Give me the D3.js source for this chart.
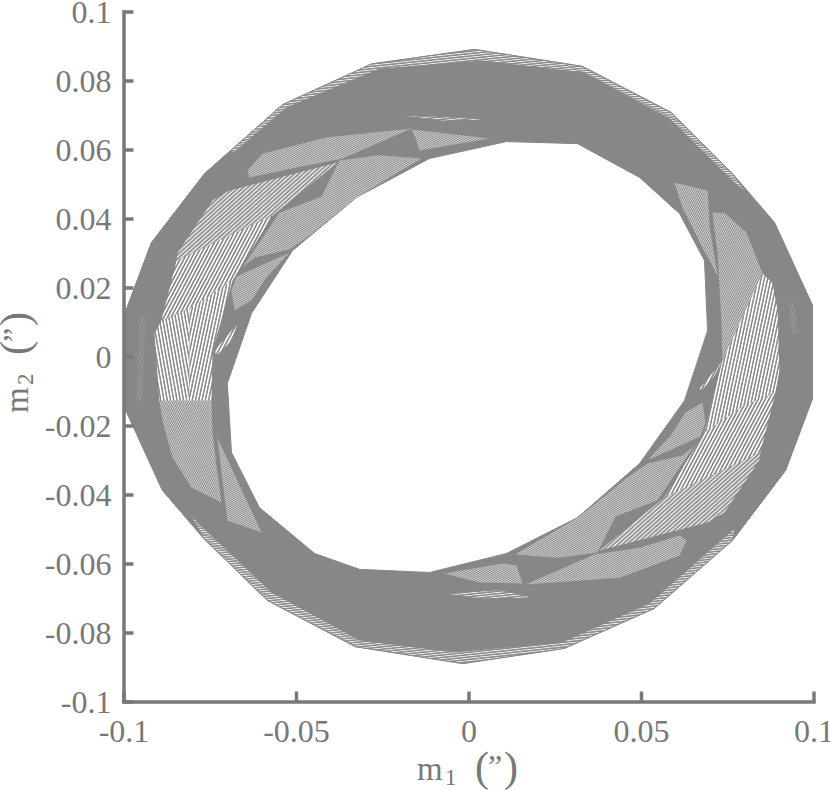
<!DOCTYPE html>
<html><head><meta charset="utf-8">
<script src="https://cdn.jsdelivr.net/npm/d3@7/dist/d3.min.js"></script>
<style>html,body{margin:0;padding:0;background:#fff}svg{display:block}</style>
</head><body><div id="chart"></div>
<script>
const xTicks=[-0.1,-0.05,0,0.05,0.1];
const xTickLabels=["-0.1","-0.05","0","0.05","0.1"];
const yTicks=[-0.1,-0.08,-0.06,-0.04,-0.02,0,0.02,0.04,0.06,0.08,0.1];
const yTickLabels=["-0.1","-0.08","-0.06","-0.04","-0.02","0","0.02","0.04","0.06","0.08","0.1"];

const outerEdge=[[.0017,.0890],[.0330,.0841],[.0588,.0707],[.0765,.0530],[.0887,.0388],[.0997,.0148],[.0997,-.0122],[.0919,-.0330],[.0765,-.0533],[.0539,-.0730],[.0278,-.0846],[-.0017,-.0890],[-.0328,-.0841],[-.0583,-.0707],[-.0765,-.0530],[-.0887,-.0388],[-.0997,-.0148],[-.0997,.0122],[-.0919,.0330],[-.0765,.0530],[-.0539,.0730],[-.0281,.0848]];
const innerEdge=[[.0110,.0623],[.0316,.0617],[.0496,.0519],[.0612,.0414],[.0684,.0278],[.0693,.0075],[.0626,-.0128],[.0496,-.0310],[.0316,-.0467],[.0110,-.0571],[-.0113,-.0626],[-.0316,-.0617],[-.0446,-.0571],[-.0606,-.0438],[-.0687,-.0278],[-.0699,-.0078],[-.0629,.0125],[-.0510,.0307],[-.0325,.0461],[-.0113,.0574]];

const topFringe=[[-.0690,.0597],[-.0539,.0730],[-.0281,.0848],[.0017,.0890],[.0330,.0841],[.0588,.0707],[.0765,.0530],[.0800,.0481],[.0780,.0496],[.0583,.0690],[.0336,.0823],[.0041,.0858],[-.0258,.0835],[-.0528,.0722],[-.0681,.0591]];
const bottomFringe=[[.0765,-.0533],[.0539,-.0730],[.0278,-.0846],[-.0017,-.0890],[-.0328,-.0841],[-.0583,-.0707],[-.0765,-.0530],[-.0803,-.0461],[-.0786,-.0481],[-.0571,-.0684],[-.0316,-.0823],[-.0041,-.0858],[.0272,-.0829],[.0525,-.0716],[.0771,-.0499]];

const leftBack=[[-.0896,-.0128],[-.0910,.0067],[-.0890,.0104],[-.0809,.0139],[-.0809,-.0128]];
const leftUpright=[[-.0809,-.0128],[-.0809,.0139],[-.0684,.0220],[-.0742,.0017],[-.0745,-.0128]];
const leftLower=[[-.0896,-.0128],[-.0745,-.0128],[-.0742,-.0223],[-.0730,-.0322],[-.0716,-.0423],[-.0803,-.0380],[-.0858,-.0293],[-.0887,-.0186]];
const leftWedge=[[-.0728,-.0235],[-.0699,-.0475],[-.0600,-.0510],[-.0684,-.0330]];
const leftMid=[[-.0846,.0278],[-.0568,.0409],[-.0684,.0220],[-.0809,.0139],[-.0890,.0104]];
const leftBand=[[-.0846,.0278],[-.0843,.0301],[-.0742,.0452],[-.0693,.0481],[-.0380,.0562],[-.0490,.0472],[-.0568,.0409]];
const leftFine=[[-.0655,.0258],[-.0548,.0417],[-.0426,.0464],[-.0374,.0568],[-.0258,.0583],[-.0136,.0574],[-.0325,.0461],[-.0461,.0351],[-.0519,.0310],[-.0620,.0287]];
const leftSmall=[[-.0672,.0232],[-.0519,.0301],[-.0586,.0229],[-.0629,.0162],[-.0678,.0133],[-.0687,.0191]];
const leftSliver=[[-.0736,.0017],[-.0670,.0096],[-.0687,.0046],[-.0730,.0003]];
const leftSpecks=[[-.0954,.0119],[-.0936,.0119],[-.0945,-.0128],[-.0962,-.0128]];
const topPatch=[[-.0641,.0539],[-.0597,.0588],[-.0412,.0635],[-.0165,.0661],[-.0365,.0574],[-.0499,.0548],[-.0635,.0519]];
const topPatchB=[[-.0165,.0658],[.0061,.0632],[-.0142,.0597],[-.0151,.0626]];
const topSliver=[[-.0191,.0699],[.0061,.0687],[-.0075,.0684]];

const rightNarrow=[[.0597,.0504],[.0693,.0481],[.0699,.0374],[.0722,.0235],[.0678,.0316],[.0620,.0432]];
const rightUpper=[[.0707,.0417],[.0742,.0417],[.0806,.0359],[.0852,.0241],[.0736,-.0012],[.0733,.0104],[.0722,.0299]];
const rightUpright=[[.0852,.0241],[.0881,.0212],[.0896,.0133],[.0901,-.0041],[.0890,-.0104],[.0800,-.0142],[.0684,-.0220],[.0736,-.0012]];
const rightMid=[[.0846,-.0278],[.0568,-.0409],[.0684,-.0220],[.0800,-.0142],[.0890,-.0104]];
const rightBand=[[.0846,-.0278],[.0843,-.0301],[.0742,-.0452],[.0693,-.0481],[.0380,-.0562],[.0490,-.0472],[.0568,-.0409]];
const rightFine=[[.0655,-.0258],[.0548,-.0417],[.0426,-.0464],[.0374,-.0568],[.0258,-.0583],[.0136,-.0574],[.0325,-.0461],[.0461,-.0351],[.0519,-.0310],[.0620,-.0287]];
const rightSmall=[[.0672,-.0232],[.0519,-.0301],[.0586,-.0229],[.0629,-.0162],[.0678,-.0133],[.0687,-.0191]];
const rightSliver=[[.0670,-.0093],[.0733,-.0017],[.0713,-.0055],[.0675,-.0099]];
const rightSpecks=[[.0928,.0154],[.0945,.0154],[.0954,.0067],[.0936,.0067]];
const bottomPatch=[[.0612,-.0519],[.0632,-.0533],[.0612,-.0577],[.0438,-.0641],[.0165,-.0661],[.0365,-.0574],[.0496,-.0554]];
const bottomPatchB=[[-.0070,-.0629],[.0099,-.0600],[.0139,-.0606],[.0157,-.0658],[.0032,-.0655]];
const bottomSliver=[[-.0064,-.0687],[.0090,-.0678],[.0186,-.0699],[.0032,-.0701]];

const W=830,H=790,ink="#878787",axisInk="#787878",textInk="#787878",font="'Liberation Serif','Times New Roman',serif";
const hatchStyles={
 back:{a:-100,g:3.2,w:1.7,o:1}, upright:{a:-78,g:3.2,w:1.7,o:1}, steep:{a:-62,g:3.2,w:1.6,o:1},
 band:{a:-42,g:3.0,w:1.3,o:.95}, fine:{a:-30,g:1.7,w:.7,o:.8}, fineB:{a:-115,g:1.7,w:.7,o:.8},
 flat:{a:-6,g:2.4,w:.9,o:.9}, faint:{a:-70,g:3,w:.6,o:.3}
};
const patches=[[leftBack,"back"],[leftUpright,"upright"],[leftLower,"fineB"],[leftWedge,"fine"],[leftMid,"steep"],[leftBand,"band"],[leftFine,"fine"],[leftSmall,"fine"],[leftSliver,"steep"],[leftSpecks,"faint"],[topPatch,"fine"],[topPatchB,"fine"],[topSliver,"flat"],
 [rightNarrow,"fineB"],[rightUpper,"fineB"],[rightUpright,"upright"],[rightMid,"steep"],[rightBand,"band"],[rightFine,"fine"],[rightSmall,"fine"],[rightSliver,"steep"],[rightSpecks,"faint"],[bottomPatch,"fine"],[bottomPatchB,"fine"],[bottomSliver,"flat"],
 [topFringe,"flat"],[bottomFringe,"flat"]];

const x=d3.scaleLinear().domain([-0.1,0.1]).range([123.5,813.5]);
const y=d3.scaleLinear().domain([-0.1,0.1]).range([701.5,11.5]);
const svg=d3.select("#chart").append("svg").attr("width",W).attr("height",H).attr("viewBox",[0,0,W,H]);
const defs=svg.append("defs");
defs.append("filter").attr("id","soft").attr("x","-5%").attr("y","-5%").attr("width","110%").attr("height","110%")
  .append("feGaussianBlur").attr("stdDeviation",0.45);
Object.entries(hatchStyles).forEach(([id,s])=>{
  const p=defs.append("pattern").attr("id","h-"+id).attr("patternUnits","userSpaceOnUse")
    .attr("width",s.g).attr("height",s.g).attr("patternTransform",`rotate(${s.a})`);
  p.append("rect").attr("width",s.g).attr("height",s.w).attr("fill","#fff").attr("fill-opacity",s.o);
});
const ring=d3.line().x(d=>x(d[0])).y(d=>y(d[1])).curve(d3.curveLinearClosed);
const art=svg.append("g").attr("filter","url(#soft)");
art.append("path").attr("d",ring(outerEdge)+ring(innerEdge)).attr("fill",ink).attr("fill-rule","evenodd")
   .attr("stroke",ink).attr("stroke-width",1);
art.append("g").selectAll("path").data(patches).join("path").attr("d",d=>ring(d[0])).attr("fill",d=>`url(#h-${d[1]})`);
art.append("path").attr("d",ring(outerEdge)).attr("fill","none").attr("stroke",ink).attr("stroke-width",1);

const gx=svg.append("g").attr("transform",`translate(0,${y(-0.1)})`)
  .call(d3.axisBottom(x).tickValues(xTicks).tickFormat((d,i)=>xTickLabels[i]).tickSizeInner(-10).tickSizeOuter(0).tickPadding(0));
const gy=svg.append("g").attr("transform",`translate(${x(-0.1)},0)`)
  .call(d3.axisLeft(y).tickValues(yTicks).tickFormat((d,i)=>yTickLabels[i]).tickSizeInner(-10).tickSizeOuter(0).tickPadding(12));
[gx,gy].forEach(g=>{
  g.selectAll(".domain").attr("stroke",axisInk).attr("stroke-width",3.5).attr("stroke-linecap","square");
  g.selectAll(".tick line").attr("stroke",axisInk).attr("stroke-width",3.5);
  g.selectAll("text").attr("fill",textInk).style("font-family",font).style("font-size","32px");
});
gx.selectAll("text").attr("y",40.5).attr("dy",0);
gy.selectAll("text").attr("dy","0.35em");

function axisTitle(transform,sub){
  const g=svg.append("g").attr("transform",transform).attr("fill",textInk).style("font-family",font);
  const t=(s,px,dx,dy)=>g.append("text").attr("x",dx).attr("y",dy).style("font-size",px+"px").text(s);
  t("m",33,0,0); t(sub,23,28,5); t("(",42,58,1); t("”",32,71,-3); t(")",42,87,1);
}
axisTitle("translate(417,780)","1");
axisTitle("translate(28,413) rotate(-90)","2");
</script></body></html>
